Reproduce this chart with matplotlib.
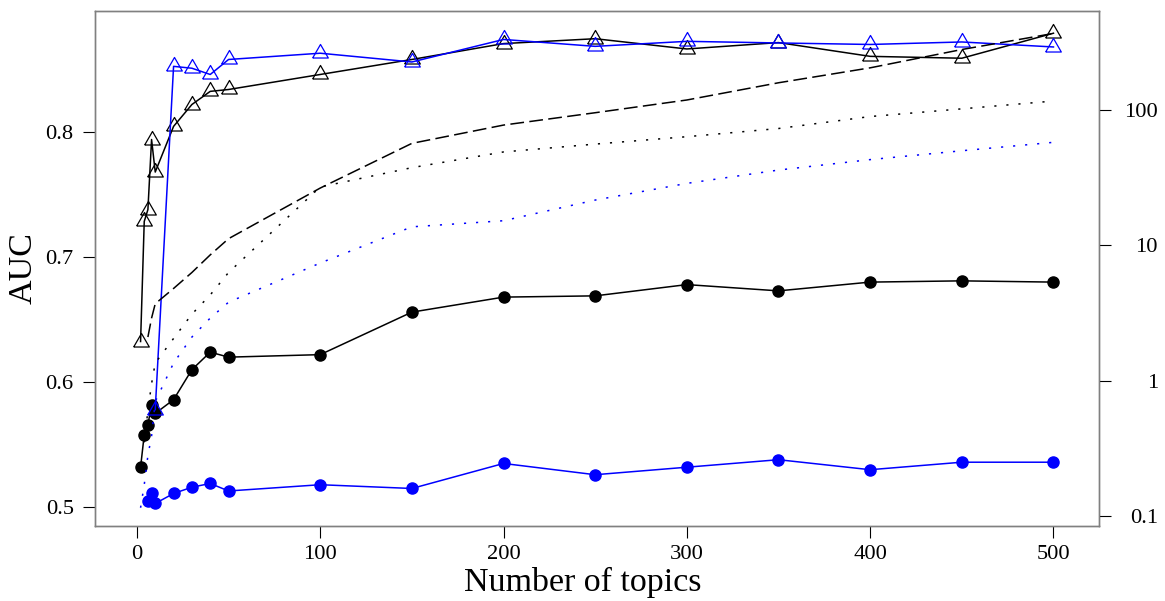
import numpy as np
import matplotlib.pyplot as plt

# number of topics
topics = [2, 4, 6, 8, 10, 20, 30, 40, 50, 100, 150, 200, 250, 300, 350, 400, 450, 500]

# AUC (left axis)
auc_tri_black = [0.6325, 0.7285, 0.738, 0.794, 0.768, 0.8045, 0.822, 0.8325, 0.834,
                 0.846, 0.858, 0.8707, 0.8746, 0.8664, 0.8715, 0.8605, 0.859, 0.879]
auc_circ_black = [0.532, 0.558, 0.566, 0.582, 0.575, 0.586, 0.610, 0.624, 0.620,
                  0.622, 0.656, 0.668, 0.669, 0.678, 0.673, 0.680, 0.681, 0.680]
topics_tri_blue = [10, 20, 30, 40, 50, 100, 150, 200, 250, 300, 350, 400, 450, 500]
auc_tri_blue = [0.578, 0.8525, 0.851, 0.846, 0.858, 0.863, 0.856, 0.874, 0.8685,
                0.8725, 0.8712, 0.870, 0.872, 0.868]
topics_circ_blue = [6, 8, 10, 20, 30, 40, 50, 100, 150, 200, 250, 300, 350, 400, 450, 500]
auc_circ_blue = [0.505, 0.511, 0.503, 0.511, 0.516, 0.519, 0.513, 0.518, 0.515,
                 0.535, 0.526, 0.532, 0.538, 0.530, 0.536, 0.536]

# right axis (log scale)
topics_dash = [6, 8, 10, 20, 30, 40, 50, 100, 150, 200, 250, 300, 350, 400, 450, 500]
val_dash = [2.1, 2.9, 3.7, 4.8, 6.3, 8.5, 11.2, 26.5, 56.7, 77.4, 95.5, 118.6,
            159, 205, 280, 368]
topics_dot_black = [4, 6, 8, 10, 20, 30, 40, 50, 100, 150, 200, 250, 300, 350, 400, 450, 500]
val_dot_black = [0.35, 0.6, 0.95, 1.35, 2.05, 3.1, 4.3, 6.3, 27, 37.5, 49, 56, 63.5,
                 73, 89.5, 102, 116.5]
val_dot_blue = [0.115, 0.17, 0.28, 0.39, 0.7, 1.35, 2.1, 2.9, 3.8, 7.4, 13.7, 15.2,
                21.6, 28.7, 36, 43, 50, 57.7]

plt.rcParams['font.family'] = ['Liberation Serif', 'DejaVu Serif']

fig = plt.figure(figsize=(11.65, 6.01), dpi=100)
ax = fig.add_axes([0.0818, 0.1248, 0.9436 - 0.0818, 0.9822 - 0.1248])
ax2 = ax.twinx()

# triangle like R pch=2 (closed)
tri = [(-1, -0.577), (1, -0.577), (0, 1.155), (-1, -0.577)]

ax.plot(topics, auc_circ_black, '-', color='black', lw=1.1, marker='o', ms=8, zorder=3)
ax.plot(topics_circ_blue, auc_circ_blue, '-', color='blue', lw=1.1, marker='o', ms=8, zorder=3)
ax.plot(topics, auc_tri_black, '-', color='black', lw=1.1, marker=tri, ms=13,
        mfc='none', mec='black', mew=0.9, zorder=3)
ax.plot(topics_tri_blue, auc_tri_blue, '-', color='blue', lw=1.1, marker=tri, ms=13,
        mfc='none', mec='blue', mew=0.9, zorder=3)

ax2.plot(topics_dash, val_dash, color='black', lw=1.1, linestyle=(0, (9, 3.5)))
ax2.plot(topics_dot_black, val_dot_black, color='black', lw=1.1, linestyle=(0, (1.4, 6.5)))
ax2.plot(topics, val_dot_blue, color='blue', lw=1.1, linestyle=(0, (1.4, 6.5)))

ax.set_xlim(-22.7, 525)
ax.set_ylim(0.485, 0.897)
ax2.set_yscale('log')
ax2.set_ylim(0.0843, 542)

ax.set_xticks([0, 100, 200, 300, 400, 500])
ax.set_yticks([0.5, 0.6, 0.7, 0.8])
ax.set_yticklabels(['0.5', '0.6', '0.7', '0.8'])
ax2.set_yticks([0.1, 1, 10, 100])
ax2.set_yticklabels(['0.1', '1', '10', '100'])
ax2.minorticks_off()

for a in (ax, ax2):
    for s in a.spines.values():
        s.set_color('#808080')
        s.set_linewidth(1.0)
ax.tick_params(direction='out', length=8.6, width=0.8, color='black', labelsize=16.2, pad=7)
ax.tick_params(axis='x', pad=5)
ax2.tick_params(direction='out', length=8.6, width=0.8, color='black', labelsize=16.2, pad=33.6)
for lbl in ax2.get_yticklabels():
    lbl.set_horizontalalignment('right')

ax.set_xlabel('Number of topics', fontsize=24.5)
ax.set_ylabel('AUC', fontsize=24.5)
ax.xaxis.set_label_coords(0.486, -0.08)
ax.yaxis.set_label_coords(-0.056, 0.5)

plt.savefig('out.png', dpi=100)
